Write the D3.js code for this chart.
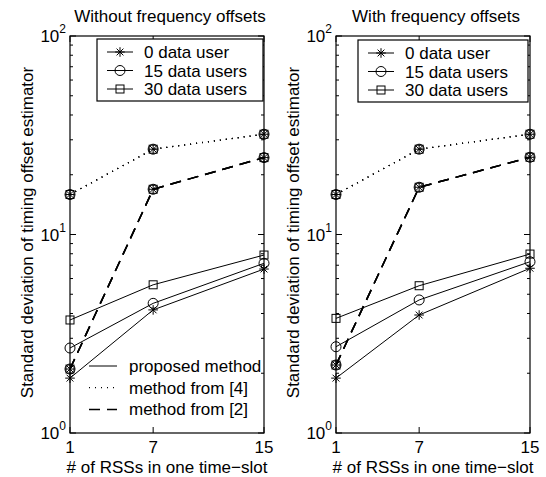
<!DOCTYPE html>
<html>
<head>
<meta charset="utf-8">
<script src="https://cdn.jsdelivr.net/npm/d3@7"></script>
<style>
  body { margin: 0; background: #fff; }
  text { font-family: "Liberation Sans", Arial, Helvetica, sans-serif; fill: #000; }
</style>
</head>
<body>
<div id="chart"></div>
<script>
// x values: number of RSSs in one time-slot
var rssCounts = [1, 7, 15];
var xTickValues = [1, 7, 15];
var yTickPowers = [0, 1, 2];

var panelTitles = ["Without frequency offsets", "With frequency offsets"];
var userLabels = ["0 data user", "15 data users", "30 data users"];
var methodLabels = ["proposed method", "method from [4]", "method from [2]"];

// Without frequency offsets
var noFoProposed0 = [1.89, 4.17, 6.70];
var noFoProposed15 = [2.68, 4.50, 7.16];
var noFoProposed30 = [3.71, 5.58, 7.88];
var noFoMethod4 = [15.9, 26.9, 32.0];
var noFoMethod2 = [2.10, 16.9, 24.4];

// With frequency offsets
var foProposed0 = [1.89, 3.93, 6.76];
var foProposed15 = [2.72, 4.68, 7.29];
var foProposed30 = [3.78, 5.52, 7.97];
var foMethod4 = [15.9, 26.9, 32.0];
var foMethod2 = [2.20, 17.3, 24.5];

var svgWidth = 546;
var svgHeight = 477;
var fontSize = "17px";

var svg = d3.select("#chart")
  .append("svg")
  .attr("width", svgWidth)
  .attr("height", svgHeight);

// marker shapes: 0 = star, 1 = circle, 2 = square
function drawMarker(g, kind, x, y) {
  if (kind === 0) {
    var s = 4.8, d = 3.4;
    g.append("path")
      .attr("d", `M${x - s},${y}L${x + s},${y}M${x},${y - s}L${x},${y + s}` +
        `M${x - d},${y - d}L${x + d},${y + d}M${x - d},${y + d}L${x + d},${y - d}`)
      .attr("stroke", "#000").attr("stroke-width", 1).attr("fill", "none");
  } else if (kind === 1) {
    g.append("circle")
      .attr("cx", x).attr("cy", y).attr("r", 5)
      .attr("stroke", "#000").attr("stroke-width", 1).attr("fill", "none");
  } else {
    g.append("rect")
      .attr("x", x - 4).attr("y", y - 4)
      .attr("width", 8).attr("height", 8)
      .attr("stroke", "#000").attr("stroke-width", 1).attr("fill", "none");
  }
}

var lineStyles = [
  { dash: null, width: 1 },
  { dash: "1,5", width: 1.3 },
  { dash: "11,7", width: 1.5 }
];

function drawPanel(p) {
  var g = svg.append("g");

  var x = d3.scaleLinear().domain([1, 15]).range([p.left, p.right]);
  var y = d3.scaleLog().domain([1, 100]).range([p.bottom, p.top]);

  var line = d3.line()
    .x((d, i) => x(rssCounts[i]))
    .y(d => y(d));

  // box
  g.append("rect")
    .attr("x", p.left).attr("y", p.top)
    .attr("width", p.right - p.left).attr("height", p.bottom - p.top)
    .attr("fill", "none").attr("stroke", "#000").attr("stroke-width", 1.2);

  // y ticks (log minor + major), inside on both sides
  var minor = [];
  for (var dec = 1; dec <= 10; dec *= 10) {
    for (var m = 2; m <= 9; m++) minor.push(dec * m);
  }
  minor.forEach(function(v) {
    g.append("line").attr("x1", p.left).attr("x2", p.left + 3)
      .attr("y1", y(v)).attr("y2", y(v)).attr("stroke", "#000");
    g.append("line").attr("x1", p.right).attr("x2", p.right - 3)
      .attr("y1", y(v)).attr("y2", y(v)).attr("stroke", "#000");
  });
  yTickPowers.forEach(function(pw) {
    var v = Math.pow(10, pw);
    g.append("line").attr("x1", p.left).attr("x2", p.left + 6)
      .attr("y1", y(v)).attr("y2", y(v)).attr("stroke", "#000");
    g.append("line").attr("x1", p.right).attr("x2", p.right - 6)
      .attr("y1", y(v)).attr("y2", y(v)).attr("stroke", "#000");
    var t = g.append("text")
      .attr("x", p.left - 4).attr("y", y(v) + 6)
      .attr("text-anchor", "end")
      .attr("font-size", fontSize);
    t.append("tspan").text("10");
    t.append("tspan").attr("dy", -9).attr("font-size", "12px").text(pw);
  });

  // x ticks
  xTickValues.forEach(function(v) {
    g.append("line").attr("x1", x(v)).attr("x2", x(v))
      .attr("y1", p.bottom).attr("y2", p.bottom - 6).attr("stroke", "#000");
    g.append("line").attr("x1", x(v)).attr("x2", x(v))
      .attr("y1", p.top).attr("y2", p.top + 6).attr("stroke", "#000");
    g.append("text")
      .attr("x", x(v)).attr("y", p.bottom + 20)
      .attr("text-anchor", "middle")
      .attr("font-size", fontSize)
      .text(v);
  });

  // series: proposed (solid), method [4] (dotted), method [2] (dashed)
  p.series.forEach(function(group, mi) {
    group.forEach(function(vals, ui) {
      g.append("path")
        .attr("d", line(vals))
        .attr("fill", "none")
        .attr("stroke", "#000")
        .attr("stroke-width", lineStyles[mi].width)
        .attr("stroke-dasharray", lineStyles[mi].dash);
      vals.forEach(function(v, i) {
        drawMarker(g, ui, x(rssCounts[i]), y(v));
      });
    });
  });

  // titles and axis labels
  g.append("text")
    .attr("x", (p.left + p.right) / 2 + 3).attr("y", 22)
    .attr("text-anchor", "middle").attr("font-size", fontSize)
    .text(p.title);

  g.append("text")
    .attr("x", (p.left + p.right) / 2).attr("y", 473)
    .attr("text-anchor", "middle").attr("font-size", fontSize)
    .text("# of RSSs in one time\u2212slot");

  g.append("text")
    .attr("transform", `translate(${p.left - 37}, ${(p.top + p.bottom) / 2 - 2}) rotate(-90)`)
    .attr("text-anchor", "middle").attr("font-size", fontSize)
    .text("Standard deviation of timing offset estimator");

  // user legend (boxed)
  var lg = p.legend;
  g.append("rect")
    .attr("x", lg.x).attr("y", lg.y)
    .attr("width", lg.w).attr("height", 62)
    .attr("fill", "#fff").attr("stroke", "#000").attr("stroke-width", 1.2);
  userLabels.forEach(function(lab, i) {
    var ly = lg.y + 13 + i * 18.5;
    g.append("line")
      .attr("x1", lg.x + 10).attr("x2", lg.x + 36)
      .attr("y1", ly).attr("y2", ly)
      .attr("stroke", "#000");
    drawMarker(g, i, lg.x + 23, ly);
    g.append("text")
      .attr("x", lg.x + 47).attr("y", ly + 6)
      .attr("font-size", fontSize)
      .text(lab);
  });

  // method legend (no box)
  if (p.methodLegend) {
    var ml = p.methodLegend;
    methodLabels.forEach(function(lab, i) {
      var ly = ml.y + i * 21.7;
      g.append("line")
        .attr("x1", ml.x).attr("x2", ml.x + 28)
        .attr("y1", ly).attr("y2", ly)
        .attr("stroke", "#000")
        .attr("stroke-width", lineStyles[i].width)
        .attr("stroke-dasharray", lineStyles[i].dash);
      g.append("text")
        .attr("x", ml.x + 40).attr("y", ly + 6)
        .attr("font-size", fontSize)
        .text(lab);
    });
  }
}

drawPanel({
  left: 70, right: 264, top: 36, bottom: 433,
  title: panelTitles[0],
  series: [
    [noFoProposed0, noFoProposed15, noFoProposed30],
    [noFoMethod4, noFoMethod4, noFoMethod4],
    [noFoMethod2, noFoMethod2, noFoMethod2]
  ],
  legend: { x: 97, y: 39, w: 166 },
  methodLegend: { x: 89, y: 366 }
});

drawPanel({
  left: 336, right: 530, top: 36, bottom: 433,
  title: panelTitles[1],
  series: [
    [foProposed0, foProposed15, foProposed30],
    [foMethod4, foMethod4, foMethod4],
    [foMethod2, foMethod2, foMethod2]
  ],
  legend: { x: 358, y: 40, w: 170 },
  methodLegend: null
});
</script>
</body>
</html>
